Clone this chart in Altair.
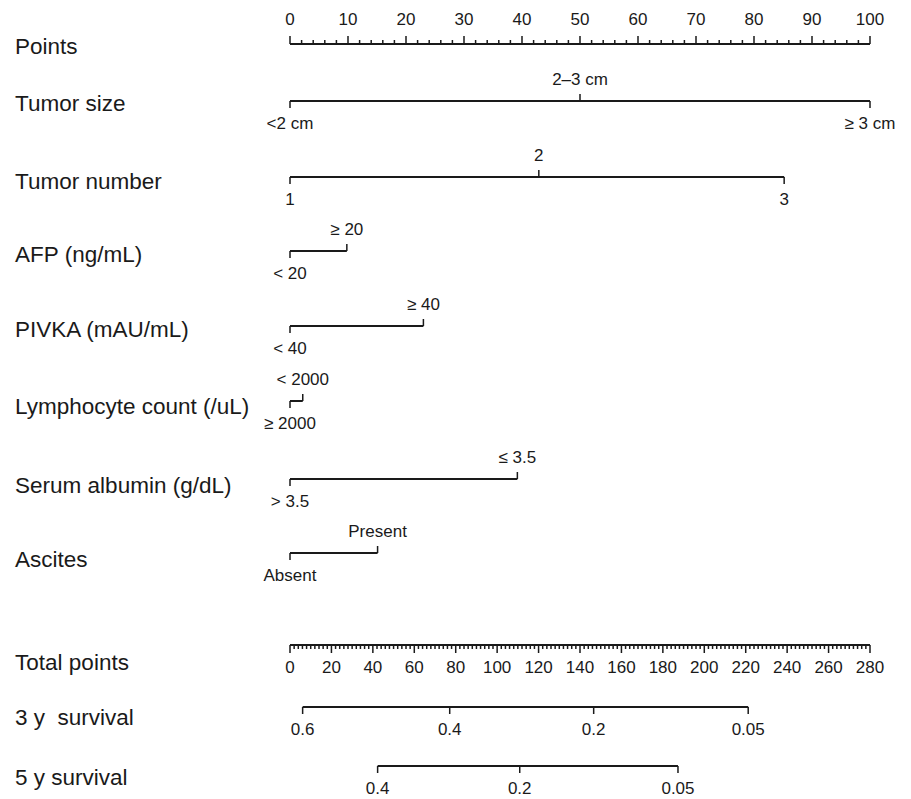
import altair as alt
import pandas as pd

# ------------------------------------------------------------------ data
points_major = list(range(0, 101, 10))
points_minor = [v for v in range(0, 101, 2) if v % 10]

tumor_size_levels = ["<2 cm", "2–3 cm", "≥ 3 cm"]
tumor_size_points = [0, 50, 100]
tumor_number_levels = ["1", "2", "3"]
tumor_number_points = [0, 42.9, 85.2]
afp_levels = ["< 20", "≥ 20"]
afp_points = [0, 9.8]
pivka_levels = ["< 40", "≥ 40"]
pivka_points = [0, 23.0]
lymph_levels = ["≥ 2000", "< 2000"]
lymph_points = [0, 2.2]
albumin_levels = ["> 3.5", "≤ 3.5"]
albumin_points = [0, 39.2]
ascites_levels = ["Absent", "Present"]
ascites_points = [0, 15.1]

total_max = 280
total_major = list(range(0, 281, 20))
total_minor = [v for v in range(0, 281, 2) if v % 20]

surv3_labels = ["0.6", "0.4", "0.2", "0.05"]
surv3_total = [6.1, 77.1, 146.6, 221.2]
surv5_labels = ["0.4", "0.2", "0.05"]
surv5_total = [42.3, 110.9, 187.3]

# ------------------------------------------------------------------ layout
FONT = "Liberation Sans"
INK = "#1a1a1a"
LABEL_X = -47.4          # row-label column, in points units

rows = [
    # name, line y, label y
    ("Points", 44, 47),
    ("Tumor size", 101, 104),
    ("Tumor number", 177, 182),
    ("AFP (ng/mL)", 251, 255),
    ("PIVKA (mAU/mL)", 326, 330),
    ("Lymphocyte count (/uL)", 401, 407),
    ("Serum albumin (g/dL)", 479, 486),
    ("Ascites", 553, 560),
    ("Total points", 645, 663),
    ("3 y\u00a0 survival", 707, 718),
    ("5 y survival", 766, 778),
]
row_y = {r[0]: r[1] for r in rows}

variables = [
    ("Tumor size", tumor_size_levels, tumor_size_points, [False, True, False]),
    ("Tumor number", tumor_number_levels, tumor_number_points, [False, True, False]),
    ("AFP (ng/mL)", afp_levels, afp_points, [False, True]),
    ("PIVKA (mAU/mL)", pivka_levels, pivka_points, [False, True]),
    ("Lymphocyte count (/uL)", lymph_levels, lymph_points, [False, True]),
    ("Serum albumin (g/dL)", albumin_levels, albumin_points, [False, True]),
    ("Ascites", ascites_levels, ascites_points, [False, True]),
]

segs, ticks, tlabels = [], [], []

# Points axis
y0 = row_y["Points"]
segs.append(dict(x=0, x2=100, y=y0))
for v in points_major:
    ticks.append(dict(x=v, y=y0, y2=y0 - 8))
    tlabels.append(dict(x=v, y=y0 - 24, text=str(v)))
for v in points_minor:
    ticks.append(dict(x=v, y=y0, y2=y0 - 4))

# variable rows
for name, levels, pts, above in variables:
    y0 = row_y[name]
    segs.append(dict(x=min(pts), x2=max(pts), y=y0))
    for lev, p, up in zip(levels, pts, above):
        if up:
            ticks.append(dict(x=p, y=y0, y2=y0 - 7))
            tlabels.append(dict(x=p, y=y0 - 21.5, text=lev))
        else:
            ticks.append(dict(x=p, y=y0, y2=y0 + 7))
            tlabels.append(dict(x=p, y=y0 + 22.5, text=lev))

# Total points axis
scale_t = 100 / total_max
y0 = row_y["Total points"]
segs.append(dict(x=0, x2=100, y=y0))
for v in total_major:
    ticks.append(dict(x=v * scale_t, y=y0, y2=y0 + 8))
    tlabels.append(dict(x=v * scale_t, y=y0 + 23, text=str(v)))
for v in total_minor:
    ticks.append(dict(x=v * scale_t, y=y0, y2=y0 + 4))

# survival axes
for name, labs, tots in [("3 y\u00a0 survival", surv3_labels, surv3_total),
                         ("5 y survival", surv5_labels, surv5_total)]:
    y0 = row_y[name]
    xs = [t * scale_t for t in tots]
    segs.append(dict(x=min(xs), x2=max(xs), y=y0))
    for lab, x in zip(labs, xs):
        ticks.append(dict(x=x, y=y0, y2=y0 + 7))
        tlabels.append(dict(x=x, y=y0 + 23, text=lab))

row_df = pd.DataFrame([dict(x=LABEL_X, y=r[2], text=r[0]) for r in rows])
seg_df = pd.DataFrame(segs)
tick_df = pd.DataFrame(ticks)
tlab_df = pd.DataFrame(tlabels)

W, H = 895, 789
xs = alt.Scale(domain=[-282 / 5.8, 613 / 5.8], nice=False, zero=False)
ys = alt.Scale(domain=[8, 8 + H], nice=False, zero=False, reverse=True)

X = lambda f: alt.X(f, type="quantitative", scale=xs, axis=None)
Y = lambda f: alt.Y(f, type="quantitative", scale=ys, axis=None)

lines = alt.Chart(seg_df).mark_rule(color=INK, strokeWidth=2).encode(
    x=X("x"), x2="x2", y=Y("y"))
tick_layer = alt.Chart(tick_df).mark_rule(color=INK, strokeWidth=1.5).encode(
    x=X("x"), y=Y("y"), y2="y2")
tick_text = alt.Chart(tlab_df).mark_text(
    font=FONT, fontSize=17, color=INK, align="center", baseline="middle"
).encode(x=X("x"), y=Y("y"), text="text:N")
row_text = alt.Chart(row_df).mark_text(
    font=FONT, fontSize=22.5, color=INK, align="left", baseline="middle"
).encode(x=X("x"), y=Y("y"), text="text:N")

chart = alt.layer(lines, tick_layer, tick_text, row_text).properties(
    width=W, height=H, padding=0, autosize=alt.AutoSizeParams(type="none"),
    background="white"
).configure_view(stroke=None, strokeWidth=0)

chart.save("out.html", embed_options={"renderer": "svg", "actions": False})
